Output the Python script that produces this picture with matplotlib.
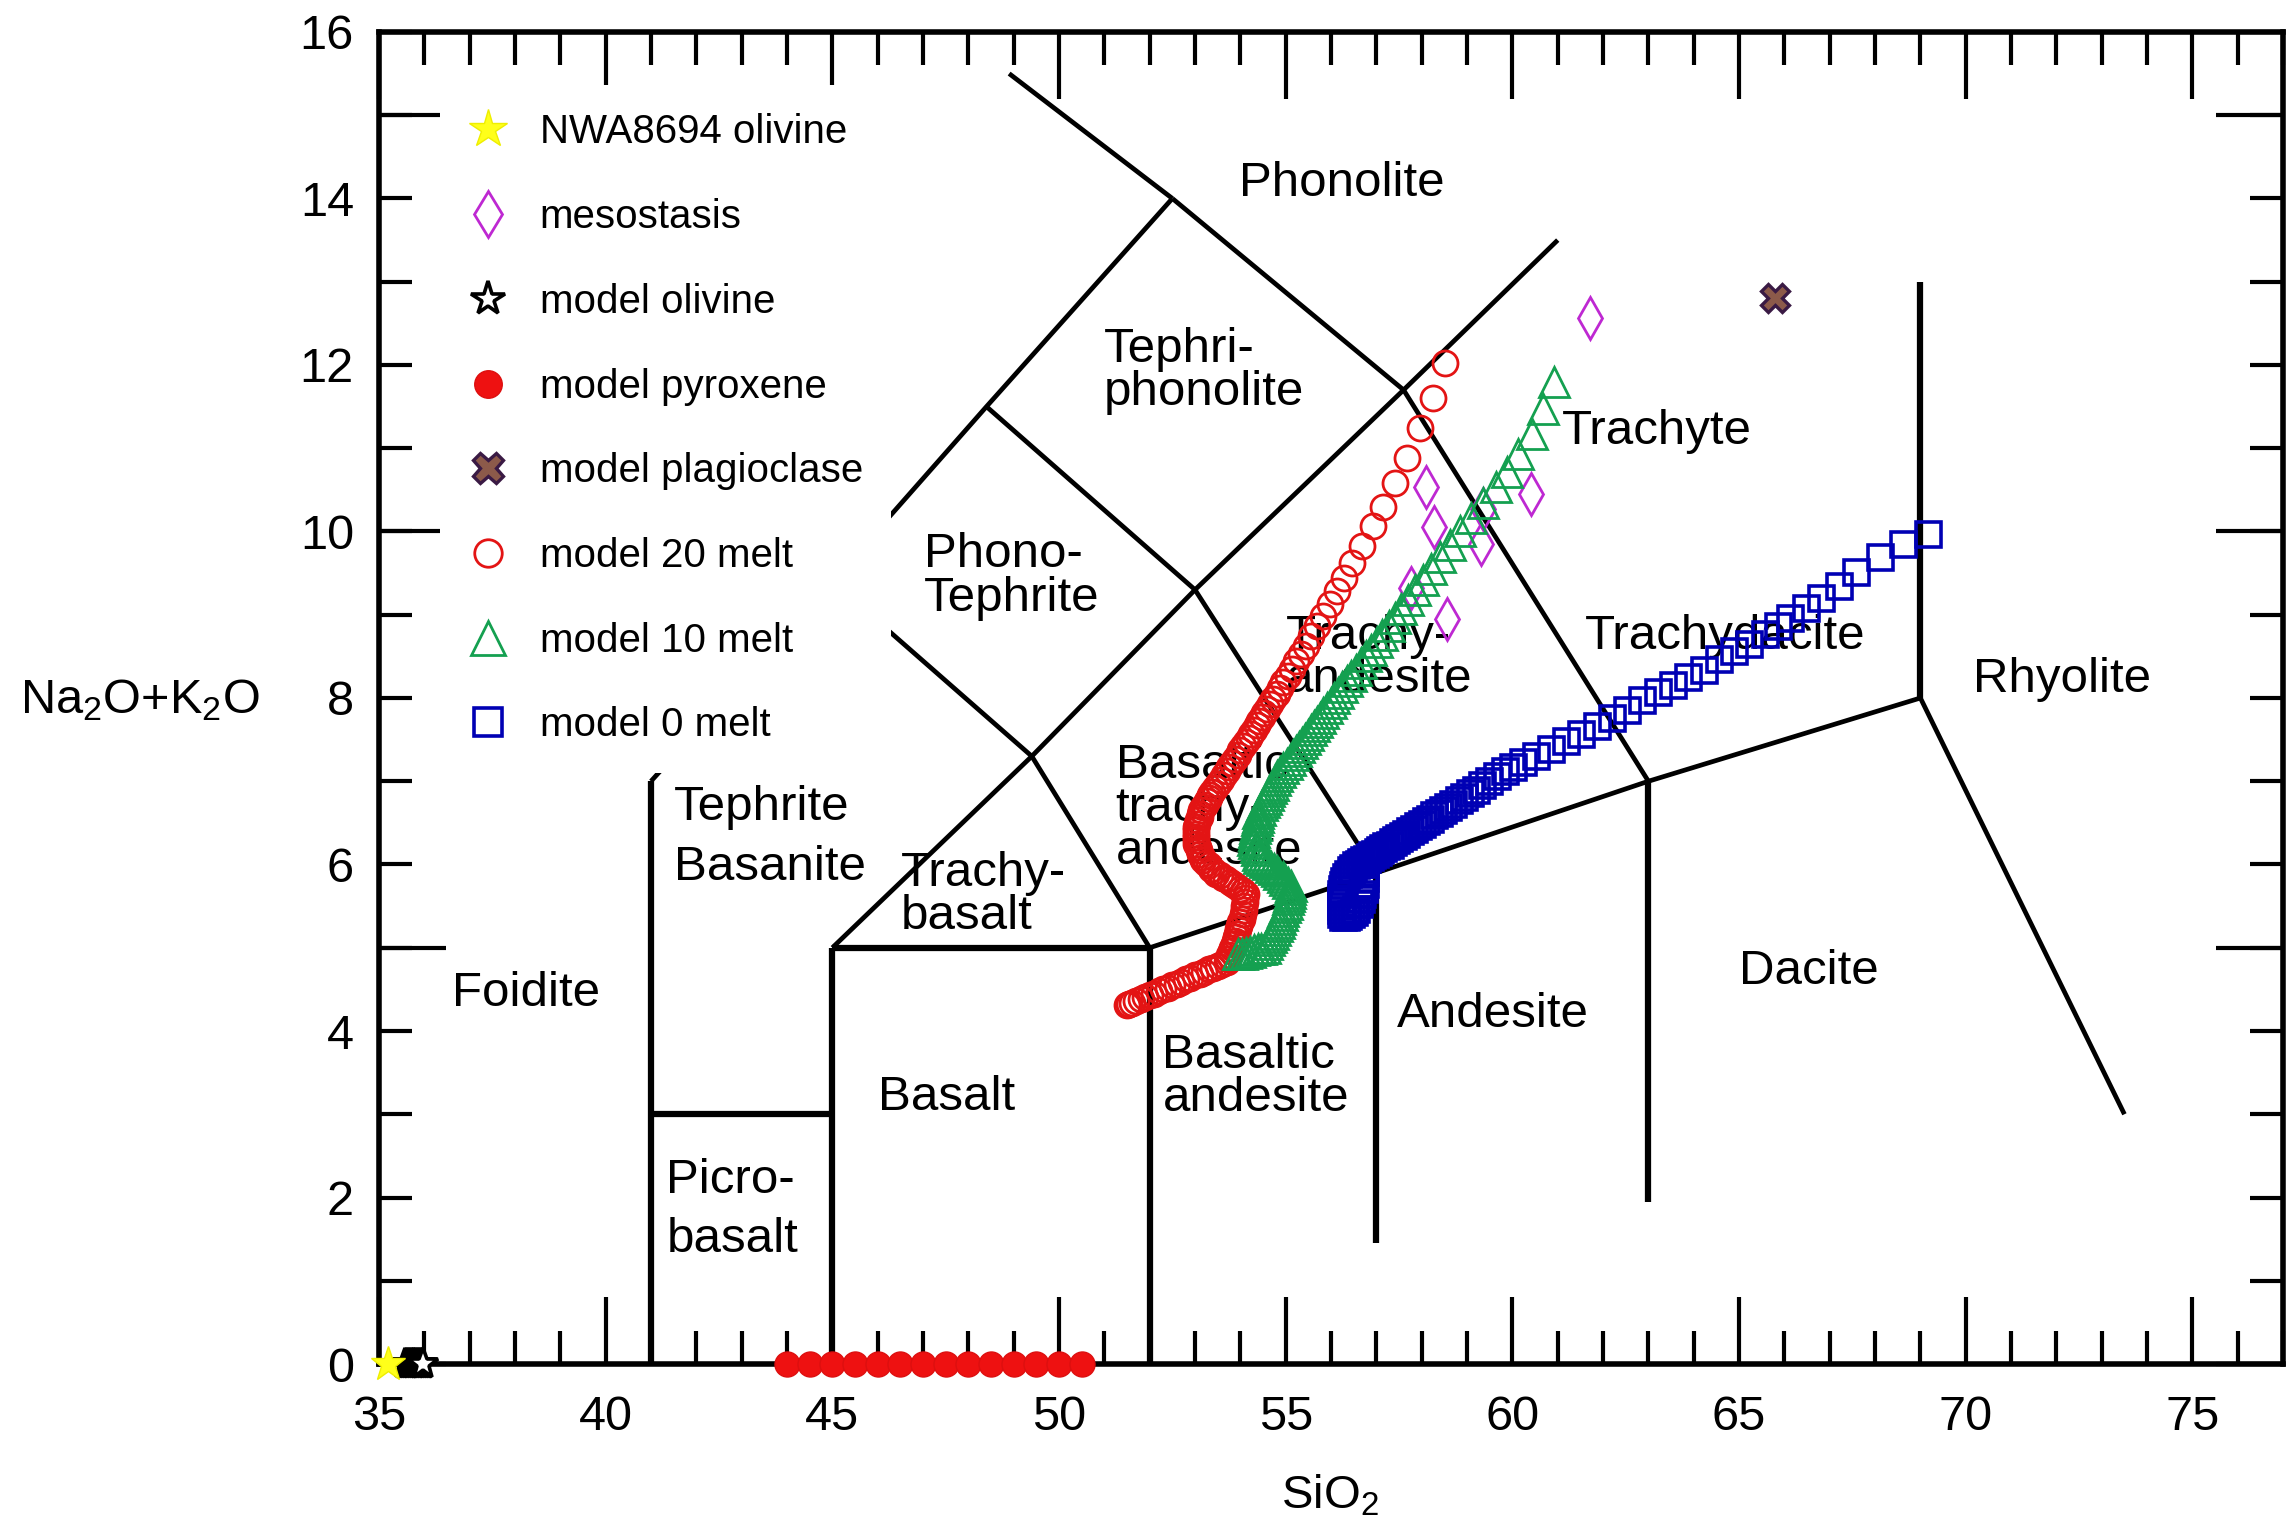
import matplotlib.pyplot as plt
from matplotlib.ticker import MultipleLocator

plt.rcParams['font.family'] = ['Liberation Sans', 'DejaVu Sans']
plt.rcParams['mathtext.fontset'] = 'custom'
plt.rcParams['mathtext.rm'] = 'Liberation Sans'
plt.rcParams['mathtext.it'] = 'Liberation Sans:italic'
plt.rcParams['mathtext.default'] = 'regular'

# TAS field boundaries (SiO2, Na2O+K2O)
tas_thick = [
    ([41, 41], [0, 7]),
    ([45, 45], [0, 5]),
    ([52, 52], [0, 5]),
    ([57, 57], [1.45, 5.9]),
    ([63, 63], [1.95, 7]),
    ([69, 69], [8, 13]),
    ([41, 45], [3, 3]),
    ([45, 52], [5, 5]),
]
tas_thin = [
    ([41, 45, 48.4, 52.5], [7, 9.4, 11.5, 14]),
    ([52.5, 48.9], [14, 15.5]),
    ([45, 49.4, 53, 57.6, 61], [5, 7.3, 9.3, 11.7, 13.5]),
    ([45, 49.4, 52], [9.4, 7.3, 5]),
    ([52, 57, 63, 69], [5, 5.9, 7, 8]),
    ([53, 57], [9.3, 5.9]),
    ([48.4, 53], [11.5, 9.3]),
    ([57.6, 63], [11.7, 7]),
    ([52.5, 57.6], [14, 11.7]),
    ([69, 73.5], [8, 3]),
]

# field names: (text, left x, center y, linespacing)
field_labels = [
    ("Phonolite", 53.98, 14.18, 1.0),
    ("Tephri-\nphonolite", 50.99, 11.93, 0.95),
    ("Phono-\nTephrite", 47.03, 9.46, 0.95),
    ("Trachy-\nandesite", 55.0, 8.48, 0.95),
    ("Trachyte", 61.1, 11.2, 1.0),
    ("Trachydacite", 61.6, 8.74, 1.0),
    ("Rhyolite", 70.15, 8.22, 1.0),
    ("Basaltic\ntrachy-\nandesite", 51.25, 6.67, 0.95),
    ("Tephrite", 41.5, 6.69, 1.0),
    ("Basanite", 41.5, 5.96, 1.0),
    ("Trachy-\nbasalt", 46.52, 5.63, 0.95),
    ("Foidite", 36.61, 4.45, 1.0),
    ("Picro-", 41.34, 2.21, 1.0),
    ("basalt", 41.34, 1.50, 1.0),
    ("Basalt", 46.0, 3.20, 1.0),
    ("Basaltic\nandesite", 52.28, 3.45, 0.95),
    ("Andesite", 57.46, 4.20, 1.0),
    ("Dacite", 64.99, 4.71, 1.0),
]

# measured samples
nwa_ol_x = [35.2]
nwa_ol_y = [0.0]

meso_x = [61.72, 58.09, 58.27, 60.41, 59.36, 59.30, 57.77, 58.55]
meso_y = [12.56, 10.53, 10.05, 10.45, 10.27, 9.85, 9.32, 8.95]

# model minerals
mod_ol_x = [35.58, 35.62, 35.66, 35.70, 35.74, 35.78, 35.82, 35.86, 35.90, 35.94, 35.98]
mod_ol_y = [0.0] * 11

pyx_x = [44.0, 44.5, 45.0, 45.5, 46.0, 46.5, 47.0, 47.5, 48.0, 48.5, 49.0, 49.5, 50.0, 50.5]
pyx_y = [0.0] * 14

plag_x = [65.8]
plag_y = [12.8]

# model melts
melt20_x = [51.49, 51.55, 51.62, 51.70, 51.80, 51.90, 52.00, 52.10, 52.20, 52.30, 52.40, 52.50,
            52.60, 52.70, 52.80, 52.90, 53.00, 53.10, 53.20, 53.30, 53.40, 53.50, 53.60,
            53.70, 53.73, 53.76, 53.79, 53.82, 53.85, 53.88, 53.90, 53.93, 53.95, 53.98, 54.00,
            54.03, 54.05, 54.07, 54.08, 54.10, 54.11, 54.13, 54.06, 53.99, 53.91, 53.84, 53.77,
            53.69, 53.62, 53.54, 53.47, 53.41, 53.35, 53.30, 53.24, 53.18, 53.15, 53.12, 53.09,
            53.06, 53.03, 53.03, 53.03, 53.03, 53.03, 53.03, 53.05, 53.07, 53.10, 53.12, 53.14,
            53.18, 53.22, 53.26, 53.30, 53.34,
            53.38, 53.44, 53.50, 53.57, 53.63, 53.70, 53.76, 53.82, 53.88, 53.94, 54.00, 54.06,
            54.12, 54.18, 54.24, 54.30, 54.36, 54.42, 54.48, 54.53, 54.59, 54.66, 54.73, 54.80,
            54.88, 54.95, 55.04, 55.13, 55.23, 55.33, 55.44, 55.56, 55.68, 55.82, 55.98, 56.13,
            56.29, 56.47, 56.68, 56.92, 57.15, 57.41, 57.68, 57.97, 58.24, 58.51]
melt20_y = [4.31, 4.32, 4.34, 4.36, 4.38, 4.41, 4.43, 4.45, 4.48, 4.50, 4.52, 4.55,
            4.57, 4.59, 4.62, 4.64, 4.67, 4.69, 4.71, 4.74, 4.76, 4.78, 4.81,
            4.83, 4.87, 4.91, 4.96, 5.00, 5.04, 5.08, 5.13, 5.17, 5.22, 5.26, 5.31,
            5.35, 5.40, 5.45, 5.50, 5.55, 5.60, 5.65, 5.68, 5.71, 5.74, 5.77, 5.79,
            5.82, 5.84, 5.87, 5.89, 5.92, 5.95, 5.99, 6.02, 6.05, 6.09, 6.13, 6.17,
            6.21, 6.25, 6.29, 6.33, 6.37, 6.41, 6.45, 6.49, 6.53, 6.57, 6.61, 6.65,
            6.69, 6.72, 6.76, 6.80, 6.83,
            6.87, 6.92, 6.97, 7.02, 7.07, 7.12, 7.17, 7.22, 7.27, 7.32, 7.37, 7.42,
            7.47, 7.52, 7.57, 7.62, 7.67, 7.72, 7.77, 7.82, 7.87, 7.93, 7.99, 8.05,
            8.12, 8.19, 8.27, 8.35, 8.44, 8.53, 8.63, 8.74, 8.86, 8.99, 9.13, 9.28,
            9.44, 9.62, 9.82, 10.06, 10.30, 10.58, 10.88, 11.24, 11.60, 12.02]

melt10_x = [53.95, 54.04, 54.12, 54.21, 54.29, 54.38, 54.46, 54.55, 54.59, 54.64, 54.68, 54.72,
            54.76, 54.81, 54.85, 54.88, 54.92, 54.95, 54.98, 55.02, 55.05, 55.07, 55.09, 55.10,
            55.12, 55.06, 54.99, 54.93, 54.86, 54.80, 54.74, 54.67, 54.61, 54.55, 54.48, 54.42,
            54.39, 54.36, 54.34, 54.31, 54.28, 54.30, 54.31, 54.33, 54.35, 54.37, 54.38, 54.40,
            54.44, 54.48, 54.52, 54.56, 54.60, 54.64, 54.68, 54.72, 54.76,
            54.81, 54.88, 54.95, 55.02, 55.09, 55.16, 55.23, 55.30, 55.36, 55.43, 55.49, 55.56,
            55.63, 55.69, 55.76, 55.83, 55.91, 55.99, 56.07, 56.15, 56.25, 56.35, 56.45, 56.54,
            56.66, 56.77, 56.88, 57.01, 57.13, 57.27, 57.40, 57.55, 57.70, 57.86, 58.03, 58.21,
            58.41, 58.62, 58.85, 59.09, 59.36, 59.64, 59.88, 60.13, 60.43, 60.67, 60.92]
melt10_y = [4.92, 4.93, 4.94, 4.95, 4.97, 4.98, 4.99, 5.00, 5.04, 5.09, 5.13, 5.17,
            5.21, 5.26, 5.30, 5.35, 5.39, 5.44, 5.49, 5.53, 5.58, 5.62, 5.66, 5.70,
            5.74, 5.78, 5.81, 5.85, 5.88, 5.92, 5.95, 5.97, 6.00, 6.03, 6.05, 6.08,
            6.12, 6.17, 6.21, 6.26, 6.30, 6.35, 6.39, 6.44, 6.48, 6.53, 6.57, 6.62,
            6.66, 6.71, 6.75, 6.79, 6.83, 6.88, 6.92, 6.96, 7.01,
            7.06, 7.11, 7.16, 7.21, 7.26, 7.31, 7.36, 7.41, 7.46, 7.51, 7.56, 7.61,
            7.66, 7.71, 7.76, 7.82, 7.88, 7.94, 8.00, 8.06, 8.13, 8.20, 8.27, 8.34,
            8.42, 8.50, 8.58, 8.67, 8.76, 8.86, 8.96, 9.07, 9.18, 9.30, 9.42, 9.55,
            9.69, 9.84, 10.00, 10.16, 10.34, 10.53, 10.72, 10.93, 11.17, 11.47, 11.79]

melt0_x = [56.26, 56.32, 56.38, 56.44, 56.50, 56.56, 56.61, 56.65, 56.69, 56.72, 56.74, 56.75,
           56.75, 56.23, 56.22, 56.22, 56.22, 56.22, 56.23, 56.24, 56.26, 56.29, 56.33, 56.38,
           56.43, 56.49, 56.55, 56.61, 56.67,
           56.73, 56.79, 56.85, 56.91, 56.97, 57.03, 57.09, 57.15, 57.22, 57.29, 57.36, 57.43,
           57.50, 57.58, 57.66, 57.74, 57.82, 57.91, 58.00, 58.09, 58.18, 58.28, 58.38, 58.48,
           58.59, 58.70, 58.82, 58.94, 59.07, 59.20, 59.34, 59.49, 59.65, 59.83, 60.02, 60.23,
           60.51, 60.85, 61.18, 61.52, 61.86, 62.20, 62.53, 62.87, 63.21, 63.54, 63.88, 64.22,
           64.56, 64.89, 65.23, 65.57, 65.85, 66.13, 66.47, 66.81, 67.20, 67.59, 68.10, 68.61,
           69.17]
melt0_y = [5.37, 5.37, 5.38, 5.40, 5.43, 5.47, 5.52, 5.58, 5.64, 5.70, 5.77, 5.84,
           5.91, 5.40, 5.45, 5.50, 5.55, 5.60, 5.65, 5.70, 5.75, 5.80, 5.85, 5.89,
           5.93, 5.96, 5.99, 6.01, 6.03,
           6.05, 6.07, 6.09, 6.11, 6.13, 6.15, 6.17, 6.20, 6.22, 6.24, 6.27, 6.29,
           6.32, 6.34, 6.37, 6.40, 6.43, 6.46, 6.49, 6.52, 6.55, 6.59, 6.62, 6.65,
           6.69, 6.73, 6.77, 6.81, 6.86, 6.90, 6.95, 7.00, 7.06, 7.12, 7.17, 7.23,
           7.30, 7.39, 7.48, 7.57, 7.66, 7.76, 7.85, 7.98, 8.07, 8.16, 8.25, 8.34,
           8.47, 8.56, 8.65, 8.77, 8.87, 8.96, 9.08, 9.20, 9.35, 9.51, 9.69, 9.85,
           9.97]

fig = plt.figure(figsize=(22.87, 15.29), dpi=100)
ax = fig.add_axes([0.1657, 0.1079, 0.8326, 0.8712])

# boundaries
for xs, ys in tas_thick:
    ax.plot(xs, ys, color='black', lw=4.5, solid_capstyle='butt', zorder=2)
for xs, ys in tas_thin:
    ax.plot(xs, ys, color='black', lw=3.4, solid_capstyle='butt', zorder=2)

for txt, lx, ly, ls in field_labels:
    ax.text(lx, ly, txt, fontsize=35.5, ha='left', va='center', linespacing=ls, zorder=2.1)

# data series (legend order)
ax.plot(nwa_ol_x, nwa_ol_y, ls='none', marker='*', ms=26, mfc='#ffff1a', mec='#eeee00', mew=1,
        label='NWA8694 olivine', clip_on=False, zorder=4)
ax.plot(meso_x, meso_y, ls='none', marker='d', ms=21, mfc='none', mec='#be28d2', mew=2.0,
        label='mesostasis', clip_on=False, zorder=3)
ax.plot(mod_ol_x, mod_ol_y, ls='none', marker='*', ms=23, mfc='white', mec='black', mew=2.6,
        label='model olivine', clip_on=False, zorder=3)
ax.plot(pyx_x, pyx_y, ls='none', marker='o', ms=18, mfc='#ee1111', mec='#dd0f0f', mew=1,
        label='model pyroxene', clip_on=False, zorder=3)
ax.plot(plag_x, plag_y, ls='none', marker='X', ms=20, mfc='#8c5a4a', mec='#3a1a44', mew=2.4,
        label='model plagioclase', clip_on=False, zorder=3)
ax.plot(melt20_x, melt20_y, ls='none', marker='o', ms=18, mfc='none', mec='#e31414', mew=2.0,
        label='model 20 melt', clip_on=False, zorder=3)
ax.plot(melt10_x, melt10_y, ls='none', marker='^', ms=22, mfc='none', mec='#14a050', mew=2.0,
        label='model 10 melt', clip_on=False, zorder=3)
ax.plot(melt0_x, melt0_y, ls='none', marker='s', ms=18, mfc='none', mec='#0000b4', mew=2.6,
        label='model 0 melt', clip_on=False, zorder=3)

ax.set_xlim(35, 77)
ax.set_ylim(0, 16)

for sp in ax.spines.values():
    sp.set_linewidth(4)

ax.xaxis.set_major_locator(MultipleLocator(5))
ax.xaxis.set_minor_locator(MultipleLocator(1))
ax.tick_params(axis='x', which='major', direction='in', length=48, width=3,
               top=True, bottom=True, labelsize=35, pad=22)
ax.tick_params(axis='x', which='minor', direction='in', length=24, width=3,
               top=True, bottom=True)

ax.set_yticks([0, 5, 10, 15])
ax.set_yticks(range(17), labels=[str(v) if v % 2 == 0 else '' for v in range(17)], minor=True)
ax.yaxis.remove_overlapping_locs = False
ax.tick_params(axis='y', which='major', direction='in', length=48, width=3,
               left=True, right=True, labelleft=False, labelright=False)
ax.tick_params(axis='y', which='minor', direction='in', length=24, width=3,
               left=True, right=True, labelsize=35, pad=18)

fig.text(0.0612, 0.5422, 'Na$_2$O+K$_2$O', fontsize=35, ha='center', va='center')
fig.text(0.5816, 0.022, 'SiO$_2$', fontsize=34, ha='center', va='center')

leg = ax.legend(loc='upper left', bbox_to_anchor=(0.0320, 0.960), borderaxespad=0,
                frameon=True, fancybox=False, edgecolor='none', facecolor='white',
                framealpha=1, fontsize=29, handlelength=1.0, handletextpad=0.78,
                labelspacing=1.16, borderpad=0.7, numpoints=1, markerscale=1.1)
leg.set_zorder(2.2)

fig.savefig('out.png', dpi=100)
